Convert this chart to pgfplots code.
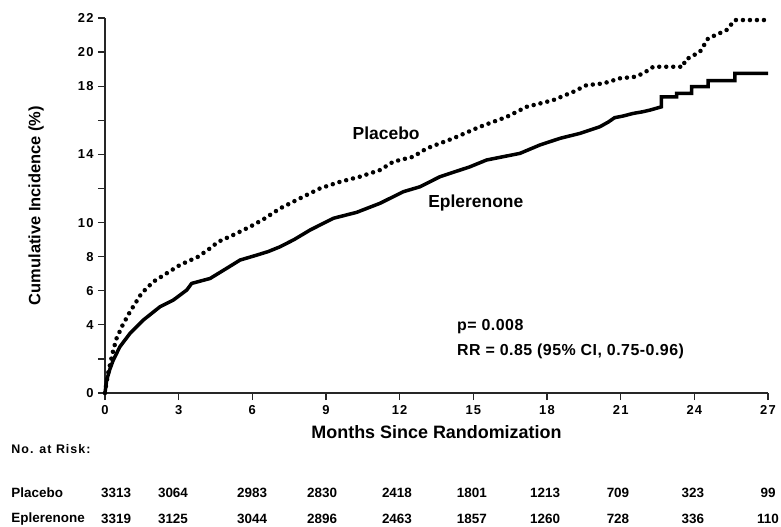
\documentclass[border=0pt]{standalone}
\usepackage{fontspec}
\setmainfont{Liberation Sans}
\usepackage{pgfplots}
\pgfplotsset{compat=1.18}

\begin{document}
\begin{tikzpicture}[risk/.style={font=\bfseries\fontsize{13.5}{15}\selectfont}]
\begin{axis}[
    scale only axis,
    width=663bp, height=375bp,
    xmin=0, xmax=27,
    ymin=0, ymax=22,
    axis lines=left,
    axis line style={-, black!85, line width=1.2bp},
    xtick={0,3,...,27},
    ytick={0,2,4,6,8,10,12,14,16,18,20,22},
    yticklabels={0,,4,6,8,10,,14,,18,20,22},
    tick align=outside,
    major tick length=7bp,
    tick style={black!85, line width=1.2bp},
    ticklabel style={font=\bfseries\fontsize{13}{14}\selectfont\addfontfeature{LetterSpace=9}},
    /pgf/number format/assume math mode=true,
    xticklabel style={yshift=-2bp},
    yticklabel style={xshift=-1bp},
    ylabel={\bfseries Cumulative Incidence (\%)},
    ylabel style={font=\fontsize{16.5}{19}\selectfont, at={(axis cs:-2.8,11.0)}, anchor=center},
    clip=false,
]

% Placebo (dotted)
\addplot[black, line width=4.5bp, line cap=round, dash pattern=on 0pt off 7bp] coordinates {
    (0,0) (0.05,0.5) (0.14,1.25) (0.34,2.52) (0.47,3.2) (0.72,3.99) (1.02,4.77)
    (1.49,5.85) (1.97,6.53) (2.51,7.02) (3.05,7.51) (3.8,8.0) (4.28,8.49)
    (4.61,8.87) (5.22,9.27) (5.9,9.75) (6.45,10.19) (7.13,10.83) (7.94,11.42)
    (8.75,12.0) (9.57,12.39) (10.38,12.69) (11.2,13.08) (11.74,13.57)
    (12.55,13.86) (13.1,14.35) (14.18,14.94) (15.27,15.62) (16.36,16.2)
    (17.17,16.79) (18.25,17.18) (19.07,17.67) (19.61,18.06) (20.29,18.16)
    (20.97,18.46) (21.58,18.55) (21.92,18.75) (22.33,19.14) (23.55,19.14)
    (23.62,19.53) (24.23,20.02) (24.56,20.8) (25.31,21.29) (25.65,21.88) (27,21.88)
};

% Eplerenone (solid, thick)
\addplot[black, line width=3.5bp, line join=miter] coordinates {
    (0,0) (0.07,0.76) (0.2,1.4) (0.34,1.94) (0.61,2.72) (1.02,3.5) (1.56,4.28)
    (2.24,5.06) (2.78,5.45) (3.33,6.04) (3.53,6.43) (4.28,6.72) (4.95,7.31)
    (5.5,7.8) (6.18,8.09) (6.65,8.3) (7.13,8.58) (7.7,9.0) (8.35,9.56)
    (9.3,10.25) (10.25,10.6) (11.2,11.13) (12.15,11.81) (12.83,12.1)
    (13.64,12.69) (14.86,13.27) (15.54,13.67) (16.9,14.06) (17.71,14.55)
    (18.53,14.94) (19.34,15.23) (20.15,15.62) (20.5,15.9) (20.75,16.15)
    (21.1,16.25) (21.5,16.4) (21.9,16.5) (22.2,16.6) (22.66,16.79)
    (22.66,17.38) (23.28,17.38) (23.28,17.58) (23.89,17.58) (23.89,17.97)
    (24.56,17.97) (24.56,18.32) (25.65,18.32) (25.65,18.75) (27,18.75)
};

% curve labels and statistics
\node[font=\bfseries\fontsize{17.5}{20}\selectfont] at (axis cs:11.45,15.25) {Placebo};
\node[font=\bfseries\fontsize{17.5}{20}\selectfont] at (axis cs:15.1,11.15) {Eplerenone};
\node[anchor=west, font=\bfseries\fontsize{16}{18}\selectfont\addfontfeature{LetterSpace=3}] at (axis cs:14.2,3.87) {p= 0.008};
\node[anchor=west, font=\bfseries\fontsize{16}{18}\selectfont\addfontfeature{LetterSpace=3}] at (axis cs:14.2,2.46) {RR = 0.85 (95\% CI, 0.75-0.96)};

% x label
\node[font=\bfseries\fontsize{18}{20}\selectfont] at (axis cs:13.5,-2.29) {Months Since Randomization};

% number at risk
\node[anchor=west, font=\bfseries\fontsize{12.5}{14}\selectfont\addfontfeature{LetterSpace=8}] at (axis cs:-3.95,-3.28) {No. at Risk:};
\node[anchor=west, risk] at (axis cs:-3.95,-5.87) {Placebo};
\node[anchor=west, risk] at (axis cs:-3.95,-7.4) {Eplerenone};

\node[risk] at (axis cs:0.45,-5.87) {3313};
\node[risk] at (axis cs:2.77,-5.87) {3064};
\node[risk] at (axis cs:5.99,-5.87) {2983};
\node[risk] at (axis cs:8.84,-5.87) {2830};
\node[risk] at (axis cs:11.89,-5.87) {2418};
\node[risk] at (axis cs:14.94,-5.87) {1801};
\node[risk] at (axis cs:17.92,-5.87) {1213};
\node[risk] at (axis cs:20.89,-5.87) {709};
\node[risk] at (axis cs:23.94,-5.87) {323};
\node[risk] at (axis cs:27.0,-5.87) {99};

\node[risk] at (axis cs:0.45,-7.4) {3319};
\node[risk] at (axis cs:2.77,-7.4) {3125};
\node[risk] at (axis cs:5.99,-7.4) {3044};
\node[risk] at (axis cs:8.84,-7.4) {2896};
\node[risk] at (axis cs:11.89,-7.4) {2463};
\node[risk] at (axis cs:14.94,-7.4) {1857};
\node[risk] at (axis cs:17.92,-7.4) {1260};
\node[risk] at (axis cs:20.89,-7.4) {728};
\node[risk] at (axis cs:23.94,-7.4) {336};
\node[risk] at (axis cs:27.0,-7.4) {110};

\coordinate (BL) at (axis cs:-4.275,-7.859);
\coordinate (TR) at (axis cs:27.529,23.056);
\end{axis}
\pgfresetboundingbox
\path[use as bounding box] (BL) rectangle (TR);
\end{tikzpicture}
\end{document}
